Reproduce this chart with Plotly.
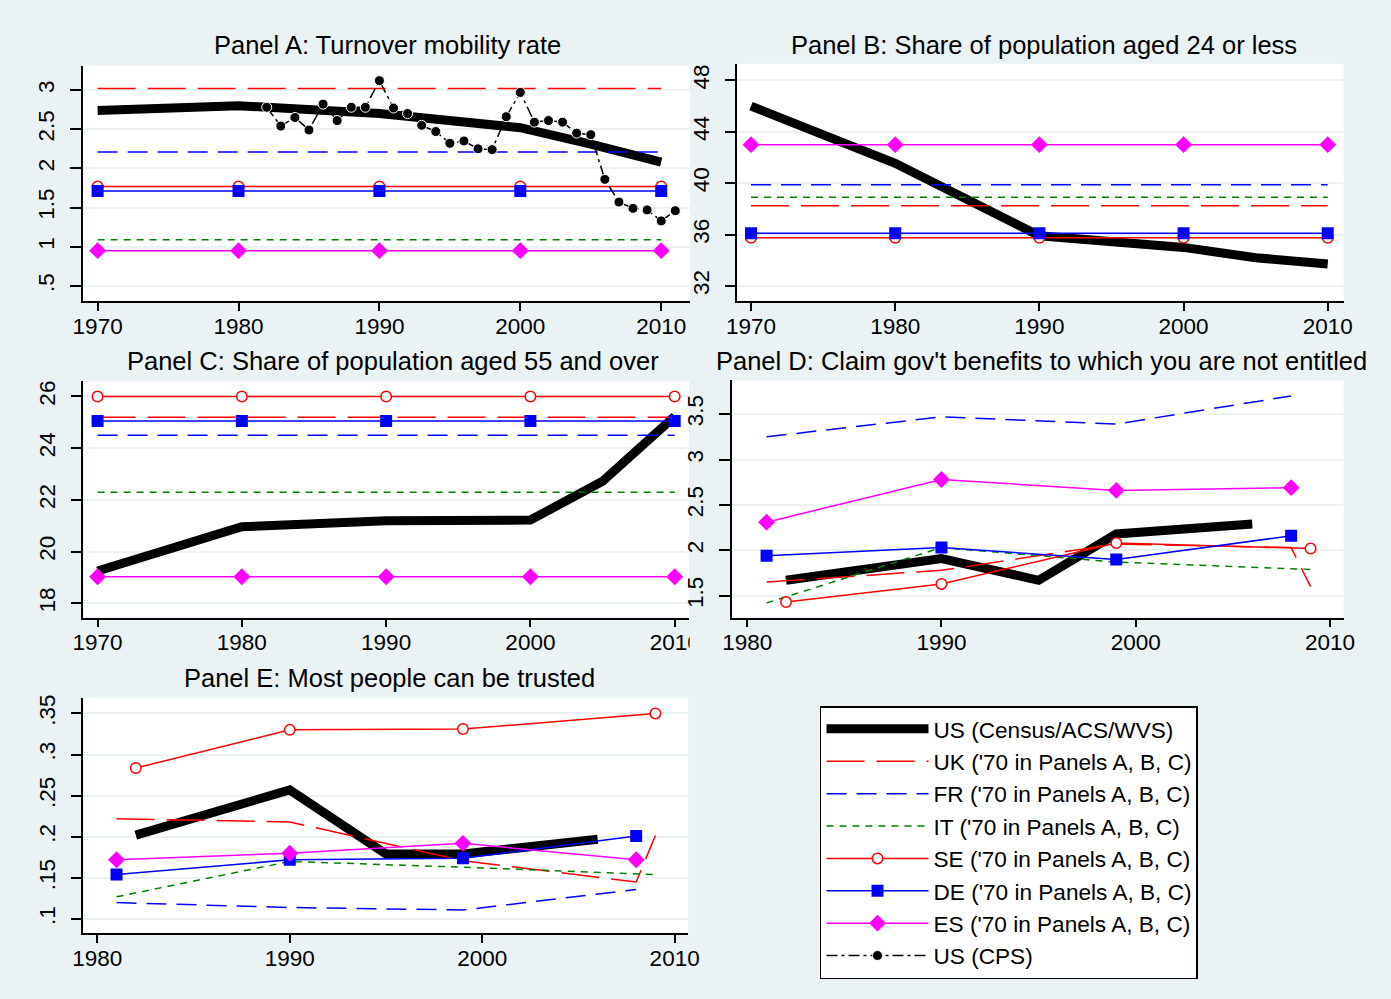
import plotly.graph_objects as go

W, H = 1391, 999
BG = "#EAF2F3"
FONT = "Liberation Sans, Arial, sans-serif"

# ---------------- data ----------------
# Panels A, B, C: 1970 reference levels for other countries, US series over time
REF_YEARS = [1970, 1980, 1990, 2000, 2010]
US_YEARS_ABC = [1970, 1980, 1990, 2000, 2005, 2010]

A_US = [2.74, 2.80, 2.70, 2.52, 2.31, 2.08]
A_UK = [3.02, 3.02, 3.02, 3.02, 3.02]
A_FR = [2.21, 2.21, 2.21, 2.21, 2.21]
A_IT = [1.09, 1.09, 1.09, 1.09, 1.09]
A_SE = [1.77, 1.77, 1.77, 1.77, 1.77]
A_DE = [1.71, 1.71, 1.71, 1.71, 1.71]
A_ES = [0.95, 0.95, 0.95, 0.95, 0.95]
CPS_YEARS = [1982, 1983, 1984, 1985, 1986, 1987, 1988, 1989, 1990, 1991,
             1992, 1993, 1994, 1995, 1996, 1997, 1998, 1999, 2000, 2001,
             2002, 2003, 2004, 2005, 2006, 2007, 2008, 2009, 2010, 2011]
CPS = [2.78, 2.54, 2.65, 2.49, 2.82, 2.61, 2.78, 2.78, 3.12, 2.77,
       2.70, 2.55, 2.47, 2.32, 2.35, 2.25, 2.24, 2.66, 2.97, 2.59,
       2.61, 2.59, 2.45, 2.43, 1.86, 1.57, 1.49, 1.47, 1.33, 1.46]

B_US = [46.0, 41.55, 35.9, 35.0, 34.2, 33.7]
B_UK = [38.25, 38.25, 38.25, 38.25, 38.25]
B_FR = [39.87, 39.87, 39.87, 39.87, 39.87]
B_IT = [38.9, 38.9, 38.9, 38.9, 38.9]
B_SE = [35.75, 35.75, 35.75, 35.75, 35.75]
B_DE = [36.1, 36.1, 36.1, 36.1, 36.1]
B_ES = [43.0, 43.0, 43.0, 43.0, 43.0]

C_US = [19.25, 20.96, 21.19, 21.22, 22.72, 25.23]
C_UK = [25.2, 25.2, 25.2, 25.2, 25.2]
C_FR = [24.5, 24.5, 24.5, 24.5, 24.5]
C_IT = [22.3, 22.3, 22.3, 22.3, 22.3]
C_SE = [26.0, 26.0, 26.0, 26.0, 26.0]
C_DE = [25.05, 25.05, 25.05, 25.05, 25.05]
C_ES = [19.03, 19.03, 19.03, 19.03, 19.03]

# Panels D, E: WVS waves
WVS_US_YEARS = [1982, 1990, 1995, 1999, 2006]
WVS_YEARS_4 = [1981, 1990, 1999, 2008]
WVS_YEARS_5 = [1981, 1990, 1999, 2008, 2009]
WVS_SE_YEARS = [1982, 1990, 1999, 2009]

D_US = [1.67, 1.91, 1.67, 2.18, 2.29]
D_UK = [1.65, 1.78, 2.07, 2.03, 1.60]
D_FR = [3.25, 3.47, 3.39, 3.70]
D_IT = [1.42, 2.03, 1.87, 1.80, 1.79]
D_SE = [1.43, 1.63, 2.08, 2.02]
D_DE = [1.94, 2.03, 1.90, 2.16]
D_ES = [2.31, 2.78, 2.66, 2.69]

E_US = [0.202, 0.257, 0.179, 0.179, 0.197]
E_UK = [0.222, 0.218, 0.171, 0.145, 0.2015]
E_FR = [0.120, 0.114, 0.111, 0.136]
E_IT = [0.127, 0.170, 0.163, 0.155, 0.154]
E_SE = [0.2836, 0.330, 0.331, 0.350]
E_DE = [0.154, 0.172, 0.174, 0.201]
E_ES = [0.172, 0.180, 0.192, 0.172]

LABELS = {
    "US": "US (Census/ACS/WVS)",
    "UK": "UK ('70 in Panels A, B, C)",
    "FR": "FR ('70 in Panels A, B, C)",
    "IT": "IT ('70 in Panels A, B, C)",
    "SE": "SE ('70 in Panels A, B, C)",
    "DE": "DE ('70 in Panels A, B, C)",
    "ES": "ES ('70 in Panels A, B, C)",
    "CPS": "US (CPS)",
}

TITLES = ["Panel A: Turnover mobility rate",
          "Panel B: Share of population aged 24 or less",
          "Panel C: Share of population aged 55 and over",
          "Panel D: Claim gov't benefits to which you are not entitled",
          "Panel E: Most people can be trusted"]

# ---------------- styles ----------------
STYLE = {
    "US": dict(mode="lines", line=dict(color="black", width=9)),
    "UK": dict(mode="lines", line=dict(color="#FF0000", width=1.5, dash="38px,12px")),
    "FR": dict(mode="lines", line=dict(color="#0000FF", width=1.5, dash="20px,10px")),
    "IT": dict(mode="lines", line=dict(color="#008000", width=1.5, dash="7px,6px")),
    "SE": dict(mode="lines+markers", line=dict(color="#FF0000", width=1.5),
               marker=dict(symbol="circle", size=10.5, color="white",
                           line=dict(color="#FF0000", width=1.5))),
    "DE": dict(mode="lines+markers", line=dict(color="#0000FF", width=1.5),
               marker=dict(symbol="square", size=12, color="#0000FF",
                           line=dict(color="#0000FF", width=0))),
    "ES": dict(mode="lines+markers", line=dict(color="#FF00FF", width=1.5),
               marker=dict(symbol="diamond", size=13, color="#FF00FF",
                           line=dict(color="#FF00FF", width=0))),
    "CPS": dict(mode="lines+markers", line=dict(color="black", width=1.5, dash="11px,4px,3px,4px"),
                marker=dict(symbol="circle", size=10, color="black",
                            line=dict(color="white", width=1))),
}

ORDER = ["US", "UK", "FR", "IT", "SE", "DE", "ES", "CPS"]

panels = [
    {"US": (US_YEARS_ABC, A_US), "UK": (REF_YEARS, A_UK), "FR": (REF_YEARS, A_FR),
     "IT": (REF_YEARS, A_IT), "SE": (REF_YEARS, A_SE), "DE": (REF_YEARS, A_DE),
     "ES": (REF_YEARS, A_ES), "CPS": (CPS_YEARS, CPS)},
    {"US": (US_YEARS_ABC, B_US), "UK": (REF_YEARS, B_UK), "FR": (REF_YEARS, B_FR),
     "IT": (REF_YEARS, B_IT), "SE": (REF_YEARS, B_SE), "DE": (REF_YEARS, B_DE),
     "ES": (REF_YEARS, B_ES)},
    {"US": (US_YEARS_ABC, C_US), "UK": (REF_YEARS, C_UK), "FR": (REF_YEARS, C_FR),
     "IT": (REF_YEARS, C_IT), "SE": (REF_YEARS, C_SE), "DE": (REF_YEARS, C_DE),
     "ES": (REF_YEARS, C_ES)},
    {"US": (WVS_US_YEARS, D_US), "UK": (WVS_YEARS_5, D_UK), "FR": (WVS_YEARS_4, D_FR),
     "IT": (WVS_YEARS_5, D_IT), "SE": (WVS_SE_YEARS, D_SE), "DE": (WVS_YEARS_4, D_DE),
     "ES": (WVS_YEARS_4, D_ES)},
    {"US": (WVS_US_YEARS, E_US), "UK": (WVS_YEARS_5, E_UK), "FR": (WVS_YEARS_4, E_FR),
     "IT": (WVS_YEARS_5, E_IT), "SE": (WVS_SE_YEARS, E_SE), "DE": (WVS_YEARS_4, E_DE),
     "ES": (WVS_YEARS_4, E_ES)},
]

# layout geometry (pixels): left, right, top, bottom of plot areas
BOXES = [(73, 690, 62, 298), (738, 1354, 60, 298), (73.6, 689, 379, 616),
         (732.6, 1354, 378, 616), (73.6, 688, 697, 933)]
XRANGES = [[1968.95, 2012.05], [1969.05, 2011.1], [1969.02, 2011.0],
           [1979.22, 2010.7], [1979.28, 2010.7]]
YRANGES = [[0.31, 3.31], [30.84, 49.3], [17.45, 26.58], [1.26, 3.87], [0.0827, 0.3685]]
XTICKS = [[1970, 1980, 1990, 2000, 2010]] * 3 + [[1980, 1990, 2000, 2010]] * 2
YTICKVALS = [[0.5, 1, 1.5, 2, 2.5, 3], [32, 36, 40, 44, 48], [18, 20, 22, 24, 26],
             [1.5, 2, 2.5, 3, 3.5], [0.1, 0.15, 0.2, 0.25, 0.3, 0.35]]
YTICKTEXT = [[".5", "1", "1.5", "2", "2.5", "3"], ["32", "36", "40", "44", "48"],
             ["18", "20", "22", "24", "26"], ["1.5", "2", "2.5", "3", "3.5"],
             [".1", ".15", ".2", ".25", ".3", ".35"]]
TITLE_POS = [(383, 41), (1050, 41), (388, 358), (1047, 358), (385, 677)]

fig = go.Figure()

for i, pdata in enumerate(panels):
    ax = "" if i == 0 else str(i + 1)
    for key in ORDER:
        if key not in pdata:
            continue
        xs, ys = pdata[key]
        st = STYLE[key]
        fig.add_trace(go.Scatter(
            x=xs, y=ys, name=LABELS[key], legendgroup=key,
            showlegend=(i == 0), xaxis="x" + ax, yaxis="y" + ax,
            hoverinfo="skip", **st))

TICKFONT = dict(size=22.5, family=FONT, color="black")

layout = dict(
    width=W, height=H, paper_bgcolor=BG, plot_bgcolor="white",
    margin=dict(l=0, r=0, t=0, b=0),
    font=dict(family=FONT, color="black", size=21),
    showlegend=True,
    legend=dict(x=822 / W, y=1 - 705 / H, xanchor="left", yanchor="top",
                bgcolor="white", bordercolor="black", borderwidth=1.5,
                font=dict(size=22.6, family=FONT, color="black"), itemwidth=102,
                tracegroupgap=0),
    annotations=[], shapes=[],
)

for i in range(5):
    ax = "" if i == 0 else str(i + 1)
    l, r, t, b = BOXES[i]
    layout["xaxis" + ax] = dict(
        domain=[l / W, r / W], range=XRANGES[i], anchor="y" + ax,
        tickvals=XTICKS[i], ticktext=[str(v) for v in XTICKS[i]],
        ticks="outside", ticklen=8, tickwidth=1.5, tickcolor="black",
        ticklabelstandoff=-4,
        showline=True, linecolor="black", linewidth=1.5, showgrid=False,
        zeroline=False, tickfont=TICKFONT)
    layout["yaxis" + ax] = dict(
        domain=[1 - b / H, 1 - t / H], range=YRANGES[i], anchor="x" + ax,
        tickvals=YTICKVALS[i], ticktext=YTICKTEXT[i], tickangle=-90,
        ticks="outside", ticklen=11, tickwidth=1.5, tickcolor="black",
        ticklabelstandoff=7,
        showline=True, linecolor="black", linewidth=1.5, showgrid=True,
        gridcolor=BG, gridwidth=2, zeroline=False, tickfont=TICKFONT)
    cx, cy = TITLE_POS[i]
    layout["annotations"].append(dict(
        text=TITLES[i], x=cx / W, y=1 - cy / H, xref="paper", yref="paper",
        xanchor="center", yanchor="middle", showarrow=False,
        font=dict(size=25.5, family=FONT, color="black")))

# the last x tick label of Panel C is clipped at the panel edge in the original
layout["shapes"].append(dict(type="rect", xref="paper", yref="paper",
                             x0=689.5 / W, x1=712 / W, y0=1 - 662 / H, y1=1 - 626 / H,
                             fillcolor=BG, line=dict(width=0), layer="above"))

fig.update_layout(**layout)
fig.write_html("out.html", config={"displayModeBar": False},
               post_script="document.body.style.margin='0';")
